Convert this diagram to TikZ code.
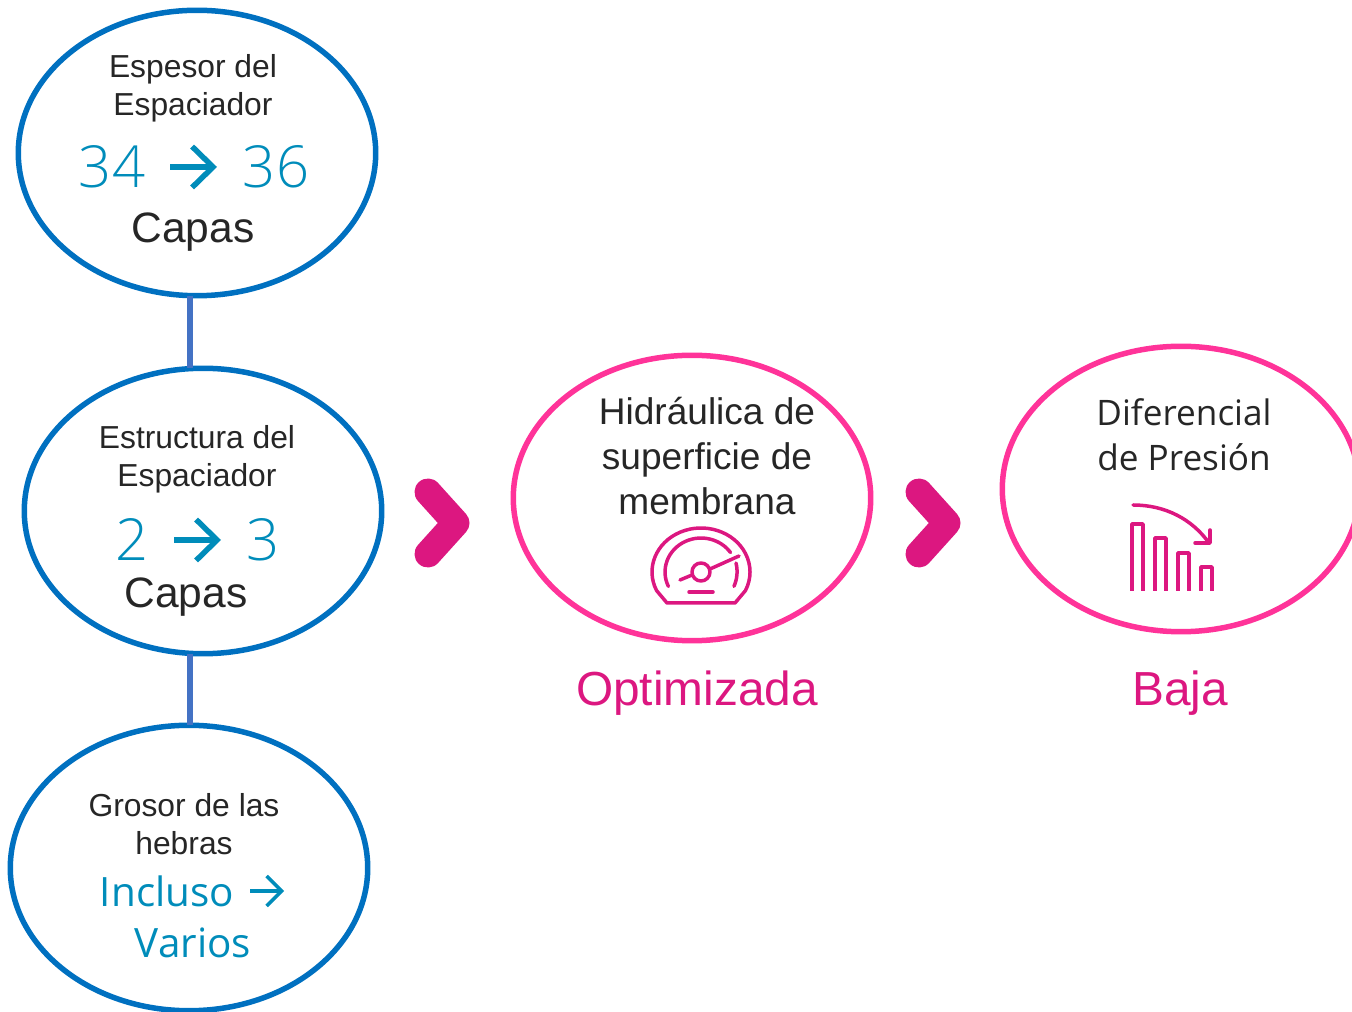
\documentclass[tikz,border=0pt]{standalone}
\usepackage{fontspec}
\setmainfont{Liberation Sans}
\newfontfamily\lightfont{Open Sans Light}
\newfontfamily\plainfont{Open Sans}
\usetikzlibrary{arrows.meta,shapes.geometric}
\definecolor{ringblue}{HTML}{0070C0}
\definecolor{ringpink}{HTML}{FF3399}
\definecolor{darkpink}{HTML}{DC1780}
\definecolor{numblue}{HTML}{008CBA}
\definecolor{linkblue}{HTML}{4472C4}
\definecolor{textgray}{HTML}{262626}

\begin{document}
\begin{tikzpicture}[
x=0.02cm,y=0.02cm,
bluering/.style={ellipse,draw=ringblue,line width=0.11cm,minimum width=7.15cm,minimum height=5.71cm,outer sep=0pt,inner sep=0pt},
pinkring/.style={ellipse,draw=ringpink,line width=0.11cm,minimum width=7.15cm,minimum height=5.71cm,outer sep=0pt,inner sep=0pt},
smalltext/.style={text=textgray,align=center,font=\fontsize{18.1}{21.6}\selectfont},
captext/.style={text=textgray,font=\fontsize{24.2}{28}\selectfont},
midtext/.style={text=textgray,align=center,font=\fontsize{21.1}{25.6}\selectfont},
lighttext/.style={text=textgray,align=center,font=\plainfont\fontsize{20}{25.6}\selectfont},
numtext/.style={text=numblue,inner sep=0pt,font=\lightfont\fontsize{33}{40}\selectfont},
numtextb/.style={text=numblue,align=center,font=\plainfont\fontsize{23}{29.5}\selectfont},
resulttext/.style={text=darkpink,font=\fontsize{27.2}{32}\selectfont},
numarrow/.style={numblue,line width=0.11cm,-{Straight Barb[length=0.42cm,width=0.82cm,line width=0.11cm]}},
link/.style={linkblue,line width=0.12cm},
chevron/.style={darkpink,line width=0.54cm,line cap=round,line join=round},
icon/.style={darkpink,line width=0.07cm,line cap=round,line join=round}
]
    \useasboundingbox (0,0) rectangle (1352,1011);

    % left column
    \node[bluering] (espesor) at (197,858) {};
    \node[bluering] (estructura) at (203,500) {};
    \node[bluering] (grosor) at (189,143) {};
    \draw[link] (espesor.267) -- (espesor.267 |- estructura.north);
    \draw[link] (espesor.267 |- estructura.south) -- (espesor.267 |- grosor.north);

    \node[smalltext] (espesorlabel) at (193,923) {Espesor del\\Espaciador};
    \node[numtext] (n34) at (112,844) {34};
    \node[numtext] (n36) at (276,844) {36};
    \coordinate (a0) at (170,844);
    \coordinate (a1) at (217,844);
    \draw[numarrow] (a0) -- (a1);
    \node[captext] (capasa) at (193,779) {Capas};

    \node[smalltext] (estructuralabel) at (197,552) {Estructura del\\Espaciador};
    \node[numtext] (n2) at (132,471) {2};
    \node[numtext] (n3) at (263,471) {3};
    \coordinate (a2) at (174,471);
    \coordinate (a3) at (221,471);
    \draw[numarrow] (a2) -- (a3);
    \node[captext] (capasb) at (186,414) {Capas};

    \node[smalltext] (grosorlabel) at (184,187) {Grosor de las\\hebras};
    \node[numtextb] (incluso) at (167,120) {Incluso};
    \node[numtextb] (varios) at (193,68) {Varios};
    \coordinate (a4) at (250,120);
    \coordinate (a5) at (284,120);
    \draw[numarrow,line width=0.07cm,-{Straight Barb[length=0.3cm,width=0.6cm,line width=0.07cm]}] (a4) -- (a5);

    % chevrons
    \draw[chevron] (428,519) -- (456,488) -- (428,457);
    \draw[chevron] (919,519) -- (947,488) -- (919,457);

    % right rings
    \node[pinkring] (hidraulica) at (692,513) {};
    \node[pinkring] (diferencial) at (1181,522) {};
    \node[midtext] (hidraulicalabel) at (707,555) {Hidráulica de\\superficie de\\membrana};
    \node[lighttext] (diferenciallabel) at (1184,576) {Diferencial\\de Presión};
    \node[resulttext] (optimizada) at (697,318) {Optimizada};
    \node[resulttext] (baja) at (1180,318) {Baja};

    % gauge
    \begin{scope}[shift={(701,439)}]
        \draw[icon] (-34,-31) -- (-44.4,-18.6) arc[start angle=205,end angle=-25,x radius=49,y radius=44] -- (34,-31) -- cycle;
        \draw[icon] (-32.6,-14.4) arc[start angle=205,end angle=35,x radius=36,y radius=34];
        \draw[icon] (35,9) arc[start angle=14,end angle=-24,radius=36];
        \draw[icon] (0,0) circle (9);
        \draw[icon] (9,3) -- (38,16);
        \draw[icon] (-9,-3) -- (-21,-8);
        \draw[icon] (-12,-20) -- (12,-20);
    \end{scope}

    % falling bars
    \begin{scope}[shift={(1110,420)}]
        \draw[icon,line cap=butt] (22,0) -- (22,67) -- (33,67) -- (33,0);
        \draw[icon,line cap=butt] (45,0) -- (45,53) -- (56,53) -- (56,0);
        \draw[icon,line cap=butt] (68,0) -- (68,38) -- (79,38) -- (79,0);
        \draw[icon,line cap=butt] (91,0) -- (91,24) -- (102,24) -- (102,0);
        \draw[icon] (23,86) .. controls (55,86) and (82,72) .. (99,48);
        \draw[icon] (85,48) -- (100,48) -- (100,61);
    \end{scope}
\end{tikzpicture}
\end{document}
